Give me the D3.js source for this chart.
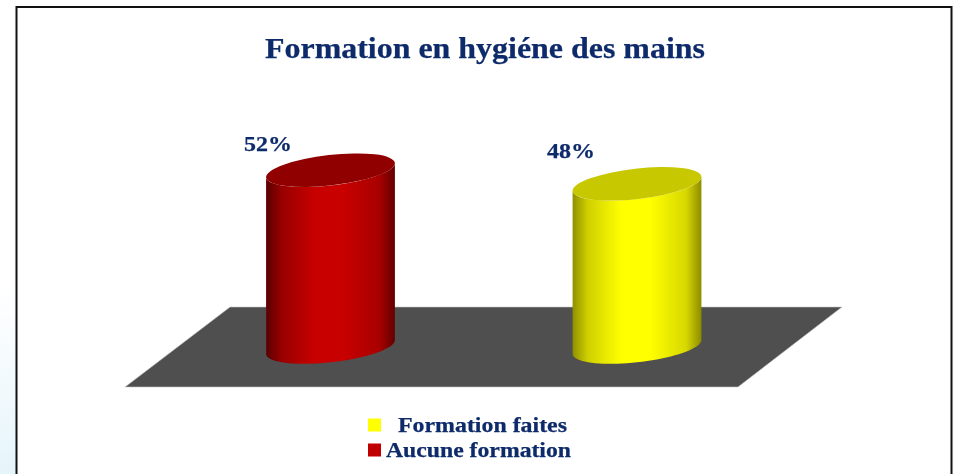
<!DOCTYPE html>
<html>
<head>
	<title> Formation en hygiéne des mains </title>
	<script src="https://d3js.org/d3.v7.min.js"></script>
	<style>
		html, body { margin: 0; padding: 0; background: #fff; }
		svg { display: block; }
		text { font-family: "Liberation Serif", serif; font-weight: bold; fill: #0f2b6b; stroke: #0f2b6b; stroke-width: 0.25; }
	</style>
</head>
<body>
	<svg width="953" height="474"></svg>
	<script type="text/javascript">
		let categories = ["Aucune formation", "Formation faites"];
		let values = [52, 48];
		let labels = ["52%", "48%"];
		let sideStops = [0, 0.12, 0.38, 0.6, 0.88, 1];
		let sideColors = [["#5a0000", "#980000", "#c80000", "#c80000", "#a80000", "#620000"],
				["#909000", "#d0d000", "#ffff00", "#ffff00", "#d8d800", "#8c8c00"]];
		let topColors = ["#900000", "#c8c800"];
		let legendOrder = ["Formation faites", "Aucune formation"];
		let legendColors = ["#ffff00", "#c00000"];

		let svg = d3.select("svg");
		let defs = svg.append("defs");

		// the source is a slightly soft screenshot
		defs.append("filter").attr("id", "soft").append("feGaussianBlur").attr("stdDeviation", 0.5);

		let backFade = defs.append("linearGradient").attr("id", "backFade")
			.attr("x1", 0).attr("y1", 0).attr("x2", 0).attr("y2", 1);
		backFade.append("stop").attr("offset", "0.6").attr("stop-color", "#ffffff");
		backFade.append("stop").attr("offset", "1").attr("stop-color", "#e6f5fb");
		svg.append("rect").attr("x", 0).attr("y", 0).attr("width", 16).attr("height", 474).attr("fill", "url(#backFade)");

		// frame
		svg.append("path").attr("d", "M16.5,474V7H951.5V474").attr("fill", "none").attr("stroke", "#111").attr("stroke-width", 2);

		let x = d3.scalePoint().domain(categories).range([330.5, 637]);
		let y = d3.scaleLinear().domain([0, 100]).range([347, 7]);

		let chart = svg.append("g").attr("filter", "url(#soft)");

		// floor
		let floorPts = [[230, 307], [842, 307], [738, 387], [125, 387]];
		chart.append("path").attr("d", d3.line()(floorPts) + "Z").attr("fill", "#4f4f4f")
			.attr("stroke", "#c8c8c8").attr("stroke-width", 0.6);

		let rx = 64.8, ry = 15.2, tilt = -6.5;

		categories.forEach(function(cat, i) {
			let g = defs.append("linearGradient").attr("id", "side" + i);
			sideStops.forEach(function(o, k) {
				g.append("stop").attr("offset", o).attr("stop-color", sideColors[i][k]);
			});
		});

		function ellipsePoint(cx, cy, t)
		{
			let a = tilt * Math.PI / 180;
			let ex = rx * Math.cos(t), ey = ry * Math.sin(t);
			return [cx + ex * Math.cos(a) - ey * Math.sin(a), cy + ex * Math.sin(a) + ey * Math.cos(a)];
		}

		function side_path(cx, top, bottom)
		{
			// left and right tangents of the tilted ellipse
			let a = tilt * Math.PI / 180;
			let t0 = Math.atan2(-ry * Math.sin(a), rx * Math.cos(a));
			let p = [];
			d3.range(0, 41).forEach(function(k) { p.push(ellipsePoint(cx, bottom, t0 + Math.PI * k / 40)); });
			d3.range(0, 41).forEach(function(k) { p.push(ellipsePoint(cx, top, t0 + Math.PI - Math.PI * k / 40)); });
			return d3.line()(p) + "Z";
		}

		let cyl = chart.selectAll("g.cyl").data(categories).enter().append("g").attr("class", "cyl");
		cyl.append("path")
			.attr("d", function(d, i) { return side_path(x(d), y(values[i]), y(0)); })
			.attr("fill", function(d, i) { return "url(#side" + i + ")"; });
		cyl.append("ellipse")
			.attr("rx", rx).attr("ry", ry)
			.attr("transform", function(d, i) { return "translate(" + x(d) + "," + y(values[i]) + ") rotate(" + tilt + ")"; })
			.attr("fill", function(d, i) { return topColors[i]; });

		// value labels
		let labelX = [244, 547];
		let labelY = [151, 158];
		chart.selectAll("text.val").data(labels).enter().append("text").attr("class", "val")
			.attr("x", function(d, i) { return labelX[i]; })
			.attr("y", function(d, i) { return labelY[i]; })
			.attr("font-size", 22).attr("textLength", 48).attr("lengthAdjust", "spacingAndGlyphs")
			.text(function(d) { return d; });

		chart.append("text").attr("x", 265).attr("y", 58)
			.attr("font-size", 30).attr("textLength", 440).attr("lengthAdjust", "spacingAndGlyphs")
			.text("Formation en hygiéne des mains");

		// legend
		let legendY = [425, 450];
		let legendTextX = [398, 386];
		let legendLength = [169, 185];
		legendOrder.forEach(function(name, i) {
			chart.append("rect").attr("x", 368).attr("y", legendY[i] - 6.5).attr("width", 13).attr("height", 13)
				.attr("fill", legendColors[i]);
			chart.append("text").attr("x", legendTextX[i]).attr("y", legendY[i] + 6.5)
				.attr("font-size", 21).attr("textLength", legendLength[i]).attr("lengthAdjust", "spacingAndGlyphs")
				.text(name);
		});
	</script>
</body>
</html>
